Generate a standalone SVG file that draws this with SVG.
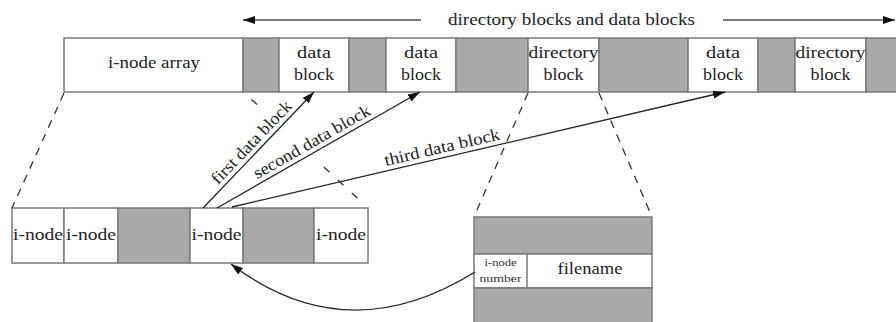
<svg xmlns="http://www.w3.org/2000/svg" width="896" height="322" viewBox="0 0 896 322">
<style>
.bg{fill:#ffffff}
.cell{fill:#ffffff;stroke:#7a7a7a;stroke-width:1.5}
.gray{fill:#a9a9a9;stroke:#7a7a7a;stroke-width:1.5}
.t{font-family:"Liberation Serif","Times New Roman",serif;font-size:17px;fill:#222;text-anchor:middle}
.s{font-family:"Liberation Serif","Times New Roman",serif;font-size:11px;fill:#333;text-anchor:middle}
.arr{fill:none;stroke:#222;stroke-width:1.3}
.top{fill:none;stroke:#555;stroke-width:1.3}
.dash{fill:none;stroke:#333;stroke-width:1.3;stroke-dasharray:8 7}
.seg{fill:none;stroke:#333;stroke-width:1.3}
</style>
<defs>
<marker id="ah" viewBox="0 0 12 8" refX="12" refY="4" markerWidth="12" markerHeight="8" markerUnits="userSpaceOnUse" orient="auto">
<path d="M0,0 L12,4 L0,8 z" fill="#111"/>
</marker>
</defs>
<rect class="bg" x="0" y="0" width="896" height="322"/>

<g id="top-bar">
<g id="inode-array"><rect class="cell" x="64" y="38" width="179" height="54"/><text class="t" x="154" y="68" textLength="92" lengthAdjust="spacingAndGlyphs">i-node array</text></g>
<g id="free1"><rect class="gray" x="243" y="38" width="36" height="54"/></g>
<g id="data-block-1"><rect class="cell" x="279" y="38" width="70" height="54"/><text class="t" x="314" y="58" textLength="34" lengthAdjust="spacingAndGlyphs">data</text><text class="t" x="314" y="80" textLength="40" lengthAdjust="spacingAndGlyphs">block</text></g>
<g id="free2"><rect class="gray" x="349" y="38" width="37" height="54"/></g>
<g id="data-block-2"><rect class="cell" x="386" y="38" width="70" height="54"/><text class="t" x="421" y="58" textLength="34" lengthAdjust="spacingAndGlyphs">data</text><text class="t" x="421" y="80" textLength="40" lengthAdjust="spacingAndGlyphs">block</text></g>
<g id="free3"><rect class="gray" x="456" y="38" width="72" height="54"/></g>
<g id="directory-block-1"><rect class="cell" x="528" y="38" width="71" height="54"/><text class="t" x="563.5" y="58" textLength="70" lengthAdjust="spacingAndGlyphs">directory</text><text class="t" x="563.5" y="80" textLength="40" lengthAdjust="spacingAndGlyphs">block</text></g>
<g id="free4"><rect class="gray" x="599" y="38" width="89" height="54"/></g>
<g id="data-block-3"><rect class="cell" x="688" y="38" width="70" height="54"/><text class="t" x="723" y="58" textLength="34" lengthAdjust="spacingAndGlyphs">data</text><text class="t" x="723" y="80" textLength="40" lengthAdjust="spacingAndGlyphs">block</text></g>
<g id="free5"><rect class="gray" x="758" y="38" width="37" height="54"/></g>
<g id="directory-block-2"><rect class="cell" x="795" y="38" width="71" height="54"/><text class="t" x="830.5" y="58" textLength="70" lengthAdjust="spacingAndGlyphs">directory</text><text class="t" x="830.5" y="80" textLength="40" lengthAdjust="spacingAndGlyphs">block</text></g>
<g id="free6"><rect class="gray" x="866" y="38" width="40" height="54"/></g>
</g>

<g id="span-label">
<text class="t" x="571.5" y="25" textLength="247" lengthAdjust="spacingAndGlyphs">directory blocks and data blocks</text>
</g>

<g id="inode-list">
<g id="inode-a"><rect class="cell" x="12" y="208" width="52" height="55"/><text class="t" x="38" y="240" textLength="50" lengthAdjust="spacingAndGlyphs">i-node</text></g>
<g id="inode-b"><rect class="cell" x="64" y="208" width="54" height="55"/><text class="t" x="91" y="240" textLength="50" lengthAdjust="spacingAndGlyphs">i-node</text></g>
<g id="inode-gap1"><rect class="gray" x="118" y="208" width="72" height="55"/></g>
<g id="inode-c"><rect class="cell" x="190" y="208" width="53" height="55"/><text class="t" x="216.5" y="240" textLength="50" lengthAdjust="spacingAndGlyphs">i-node</text></g>
<g id="inode-gap2"><rect class="gray" x="243" y="208" width="71" height="55"/></g>
<g id="inode-d"><rect class="cell" x="314" y="208" width="54" height="55"/><text class="t" x="341" y="240" textLength="50" lengthAdjust="spacingAndGlyphs">i-node</text></g>
</g>

<g id="directory-detail">
<rect class="gray" x="474" y="217" width="178" height="37"/>
<g id="dir-entry">
<rect class="cell" x="474" y="254" width="178" height="34"/>
<line x1="527" y1="254" x2="527" y2="288" stroke="#7a7a7a" stroke-width="1.5"/>
<text class="s" x="500.5" y="266" textLength="32" lengthAdjust="spacingAndGlyphs">i-node</text>
<text class="s" x="500.5" y="282" textLength="42" lengthAdjust="spacingAndGlyphs">number</text>
<text class="t" x="590" y="274" textLength="65" lengthAdjust="spacingAndGlyphs">filename</text>
</g>
<rect class="gray" x="474" y="288" width="178" height="40"/>
</g>

<g id="connectors">
<line class="top" x1="421" y1="20" x2="243" y2="20" marker-end="url(#ah)"/>
<line class="top" x1="723" y1="20" x2="895" y2="20" marker-end="url(#ah)"/>
<line class="dash" x1="64" y1="93" x2="12" y2="208"/>
<path class="seg" d="M251.5,99.5 L257,104.6 M323.8,167 L329.5,172.3 M337.8,180 L343.5,185.3 M351.8,193 L357.5,198.3"/>
<line class="dash" x1="528" y1="93" x2="474" y2="217"/>
<line class="dash" x1="599" y1="93" x2="652" y2="217"/>
<line class="arr" x1="203" y1="208" x2="314" y2="92" marker-end="url(#ah)"/>
<line class="arr" x1="217" y1="208" x2="420" y2="92" marker-end="url(#ah)"/>
<line class="arr" x1="232" y1="207" x2="725" y2="92" marker-end="url(#ah)"/>
<path class="arr" d="M475,272 Q346,352 231,264" marker-end="url(#ah)"/>
<g transform="translate(259,149.6) rotate(-46.3)"><text class="t" x="0" y="-5" textLength="108" lengthAdjust="spacingAndGlyphs">first data block</text></g>
<g transform="translate(317,150.9) rotate(-29.7)"><text class="t" x="0" y="-5" textLength="132" lengthAdjust="spacingAndGlyphs">second data block</text></g>
<g transform="translate(444.4,157.5) rotate(-13.1)"><text class="t" x="0" y="-5" textLength="118" lengthAdjust="spacingAndGlyphs">third data block</text></g>
</g>
</svg>
